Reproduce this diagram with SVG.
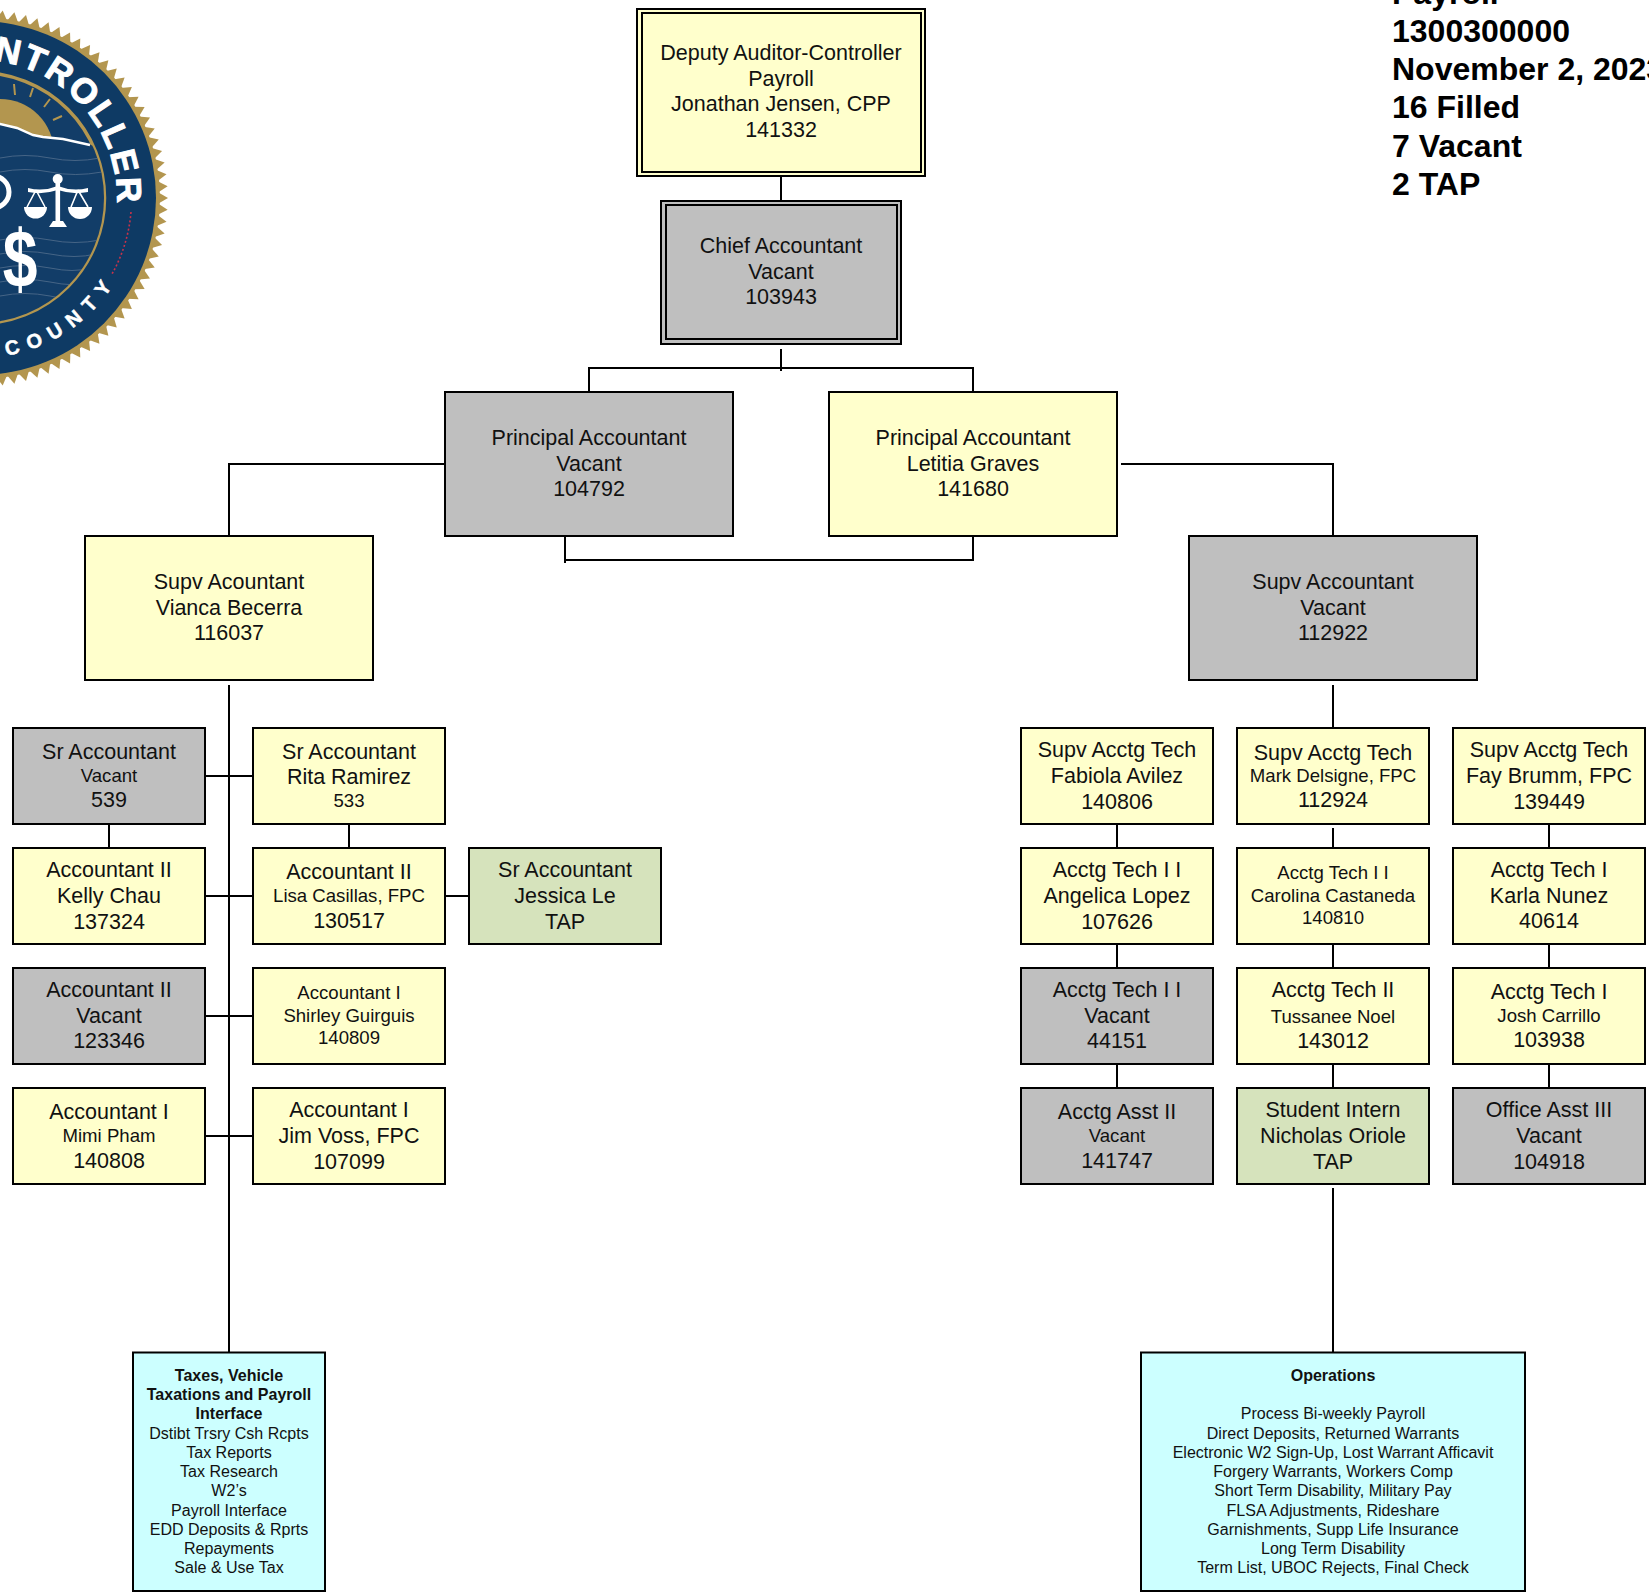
<svg xmlns="http://www.w3.org/2000/svg" xmlns:xlink="http://www.w3.org/1999/xlink" width="1649" height="1592" viewBox="0 0 1649 1592">
<style>
text{font-family:"Liberation Sans",Arial,sans-serif;fill:#111;text-anchor:middle;font-size:21.5px}
.s{font-size:18.6px}
.k{font-size:16.05px}
.b{font-weight:700}
.h{font-size:32px;font-weight:700;text-anchor:start;fill:#000}
rect{stroke:#000;stroke-width:2}
.y{fill:#ffc}
.g{fill:#bfbfbf}
.t{fill:#d6e3bc}
.c{fill:#cff}
.n{fill:none}
#connectors path{fill:none;stroke:#000;stroke-width:2}
.lg{font-weight:700;fill:#fff;stroke:#fff;text-anchor:start}
</style>
<defs>
<polygon id="tooth" points="-5.85,-179 0,-189 5.85,-179" fill="#b3964f"/>
<g id="t5"><use href="#tooth"/><use href="#tooth" transform="rotate(3.6)"/><use href="#tooth" transform="rotate(7.2)"/><use href="#tooth" transform="rotate(10.8)"/><use href="#tooth" transform="rotate(14.4)"/></g>
<g id="t25"><use href="#t5"/><use href="#t5" transform="rotate(18)"/><use href="#t5" transform="rotate(36)"/><use href="#t5" transform="rotate(54)"/><use href="#t5" transform="rotate(72)"/></g>
<clipPath id="inner"><circle cx="0" cy="0" r="125"/></clipPath>
<path id="arcTop" d="M23.9,-136 A138,138 0 0 1 135.9,24"/>
<path id="arcBot" d="M27.8,157.6 A160,160 0 0 0 150.4,54.7"/>
</defs>

<g id="logo">
<g transform="translate(-21,198)">
<use href="#t25"/><use href="#t25" transform="rotate(90)"/><use href="#t25" transform="rotate(180)"/><use href="#t25" transform="rotate(270)"/>
<circle r="181" fill="#b3964f"/>
<circle r="177" fill="#0e3a64"/>
<circle r="125.5" fill="#123d68" stroke="#b3964f" stroke-width="3.5"/>
<path d="M152,14 A153,153 0 0 1 133,76" fill="none" stroke="#c8324a" stroke-width="1.6" stroke-dasharray="2 2.2"/>
<text class="lg" transform="rotate(-4)" letter-spacing="2.4" stroke-width="1" style="font-size:35px"><textPath href="#arcTop">NTROLLER</textPath></text>
<text class="lg" stroke-width=".5" style="font-size:20px" letter-spacing="9"><textPath href="#arcBot">COUNTY</textPath></text>
<g clip-path="url(#inner)">
<g transform="translate(21,-198)">
<circle cx="0" cy="153" r="54" fill="#b3964f"/>
<path d="M14,84 L15,95 M33,88 L30,97 M50,99 L44,107 M62,116 L53,120" stroke="#b3964f" stroke-width="2" fill="none"/>
<path d="M-30,122 L0,124 L17,128 L33,135 L43,137 L63,139 L90,145 L120,150 L120,340 L-30,340 Z" fill="#123d68"/>
<path d="M-30,122 L0,124 L17,128 L33,135 L43,137 L63,139 L90,145" fill="none" stroke="#fff" stroke-width="2.4"/>
<path d="M0,158 Q25,153 50,158 T100,158 M0,172 Q25,167 50,172 T102,172 M0,240 Q25,235 50,240 T100,240 M0,254 Q25,249 50,254 T96,254 M0,268 Q25,263 50,268 T88,268 M0,282 Q25,277 50,282 T78,282 M0,296 Q25,291 50,296 T62,296" fill="none" stroke="#5c7693" stroke-width="1" opacity=".7"/>
<circle cx="-7" cy="192" r="16" fill="none" stroke="#fff" stroke-width="5"/>
<g fill="#fff" stroke="none">
<circle cx="57.7" cy="179" r="5"/>
<rect x="55.5" y="180" width="4.6" height="44" style="stroke:none;fill:#fff"/>
<path d="M49,227 L67,227 L63,221 L53,221 Z"/>
<path d="M28,188 Q43,192 57.7,186 Q73,192 88,188 L88,192 Q73,195 57.7,190 Q43,195 28,192 Z"/>
<path d="M24,207 L47,207 A11.5,11.5 0 0 1 24,207 Z"/>
<path d="M68,207 L92,207 A12,12 0 0 1 68,207 Z"/>
</g>
<path d="M36,190 L27,207 M36,190 L45,207 M78,190 L71,207 M78,190 L88,207" stroke="#fff" stroke-width="1.6" fill="none"/>
<text transform="translate(20,287) scale(.8,1.05)" class="b" style="font-size:78px;fill:#fff">$</text>
</g>
</g>
</g>
</g>

<g id="connectors">
<path d="M781,176V205M781,349V371M589,392V368H973V392M445,464H229V536M1121,464H1333V536M565,536V563M564,560H973V536"/>
<path d="M229,685V1352M205,776H253M205,896H253M205,1016H253M205,1136H253M109,824V848M349,824V853M445,896H469"/>
<path d="M1333,685V728M1117,824V848M1117,939V968M1117,1064V1088M1333,828V848M1333,944V968M1333,1064V1088M1333,1188V1352M1549,824V848M1549,944V968M1549,1064V1088"/>
</g>

<g id="header"><text class="h" x="1392" y="4">Payroll</text><text class="h" x="1392" y="42">1300300000</text><text class="h" x="1392" y="80">November 2, 2023</text><text class="h" x="1392" y="118">16 Filled</text><text class="h" x="1392" y="157">7 Vacant</text><text class="h" x="1392" y="195">2 TAP</text></g>

<g id="deputy"><rect class="y" x="637" y="9" width="288" height="167"/><rect class="n" x="642" y="13" width="279" height="159"/><text x="781" y="60">Deputy Auditor-Controller</text><text x="781" y="86">Payroll</text><text x="781" y="111">Jonathan Jensen, CPP</text><text x="781" y="137">141332</text></g>
<g id="chief"><rect class="g" x="661" y="201" width="240" height="143"/><rect class="n" x="666" y="205" width="231" height="134"/><text x="781" y="253">Chief Accountant</text><text x="781" y="279">Vacant</text><text x="781" y="304">103943</text></g>
<g id="principal-vacant"><rect class="g" x="445" y="392" width="288" height="144"/><text x="589" y="445">Principal Accountant</text><text x="589" y="471">Vacant</text><text x="589" y="496">104792</text></g>
<g id="principal-graves"><rect class="y" x="829" y="392" width="288" height="144"/><text x="973" y="445">Principal Accountant</text><text x="973" y="471">Letitia Graves</text><text x="973" y="496">141680</text></g>
<g id="supv-becerra"><rect class="y" x="85" y="536" width="288" height="144"/><text x="229" y="589">Supv Acountant</text><text x="229" y="615">Vianca Becerra</text><text x="229" y="640">116037</text></g>
<g id="supv-vacant"><rect class="g" x="1189" y="536" width="288" height="144"/><text x="1333" y="589">Supv Accountant</text><text x="1333" y="615">Vacant</text><text x="1333" y="640">112922</text></g>

<g id="sr-539"><rect class="g" x="13" y="728" width="192" height="96"/><text x="109" y="759">Sr Accountant</text><text class="s" x="109" y="782">Vacant</text><text x="109" y="807">539</text></g>
<g id="sr-533"><rect class="y" x="253" y="728" width="192" height="96"/><text x="349" y="759">Sr Accountant</text><text x="349" y="783.5">Rita Ramirez</text><text class="s" x="349" y="807">533</text></g>
<g id="acct-chau"><rect class="y" x="13" y="848" width="192" height="96"/><text x="109" y="877">Accountant II</text><text x="109" y="903">Kelly Chau</text><text x="109" y="928.5">137324</text></g>
<g id="acct-casillas"><rect class="y" x="253" y="848" width="192" height="96"/><text x="349" y="879">Accountant II</text><text class="s" x="349" y="902">Lisa Casillas, FPC</text><text x="349" y="927.5">130517</text></g>
<g id="sr-le"><rect class="t" x="469" y="848" width="192" height="96"/><text x="565" y="877">Sr Accountant</text><text x="565" y="903">Jessica Le</text><text x="565" y="928.5">TAP</text></g>
<g id="acct-123346"><rect class="g" x="13" y="968" width="192" height="96"/><text x="109" y="997">Accountant II</text><text x="109" y="1023">Vacant</text><text x="109" y="1048">123346</text></g>
<g id="acct-guirguis"><rect class="y" x="253" y="968" width="192" height="96"/><text class="s" x="349" y="999">Accountant I</text><text class="s" x="349" y="1022">Shirley Guirguis</text><text class="s" x="349" y="1044">140809</text></g>
<g id="acct-pham"><rect class="y" x="13" y="1088" width="192" height="96"/><text x="109" y="1119">Accountant I</text><text class="s" x="109" y="1142">Mimi Pham</text><text x="109" y="1167.5">140808</text></g>
<g id="acct-voss"><rect class="y" x="253" y="1088" width="192" height="96"/><text x="349" y="1117">Accountant I</text><text x="349" y="1143">Jim Voss, FPC</text><text x="349" y="1168.5">107099</text></g>

<g id="supv-avilez"><rect class="y" x="1021" y="728" width="192" height="96"/><text x="1117" y="757">Supv Acctg Tech</text><text x="1117" y="783">Fabiola Avilez</text><text x="1117" y="808.5">140806</text></g>
<g id="supv-delsigne"><rect class="y" x="1237" y="728" width="192" height="96"/><text x="1333" y="759.5">Supv Acctg Tech</text><text class="s" x="1333" y="782">Mark Delsigne, FPC</text><text x="1333" y="807">112924</text></g>
<g id="supv-brumm"><rect class="y" x="1453" y="728" width="192" height="96"/><text x="1549" y="757">Supv Acctg Tech</text><text x="1549" y="783">Fay Brumm, FPC</text><text x="1549" y="808.5">139449</text></g>
<g id="tech-lopez"><rect class="y" x="1021" y="848" width="192" height="96"/><text x="1117" y="877">Acctg Tech I I</text><text x="1117" y="903">Angelica Lopez</text><text x="1117" y="928.5">107626</text></g>
<g id="tech-castaneda"><rect class="y" x="1237" y="848" width="192" height="96"/><text class="s" x="1333" y="879">Acctg Tech I I</text><text class="s" x="1333" y="902">Carolina Castaneda</text><text class="s" x="1333" y="924">140810</text></g>
<g id="tech-nunez"><rect class="y" x="1453" y="848" width="192" height="96"/><text x="1549" y="877">Acctg Tech I</text><text x="1549" y="902.5">Karla Nunez</text><text x="1549" y="928">40614</text></g>
<g id="tech-44151"><rect class="g" x="1021" y="968" width="192" height="96"/><text x="1117" y="997">Acctg Tech I I</text><text x="1117" y="1023">Vacant</text><text x="1117" y="1048">44151</text></g>
<g id="tech-noel"><rect class="y" x="1237" y="968" width="192" height="96"/><text x="1333" y="997">Acctg Tech II</text><text class="s" x="1333" y="1023">Tussanee Noel</text><text x="1333" y="1048">143012</text></g>
<g id="tech-carrillo"><rect class="y" x="1453" y="968" width="192" height="96"/><text x="1549" y="999">Acctg Tech I</text><text class="s" x="1549" y="1022">Josh Carrillo</text><text x="1549" y="1047">103938</text></g>
<g id="asst-141747"><rect class="g" x="1021" y="1088" width="192" height="96"/><text x="1117" y="1119">Acctg Asst II</text><text class="s" x="1117" y="1142">Vacant</text><text x="1117" y="1167.5">141747</text></g>
<g id="intern-oriole"><rect class="t" x="1237" y="1088" width="192" height="96"/><text x="1333" y="1117">Student Intern</text><text x="1333" y="1143">Nicholas Oriole</text><text x="1333" y="1168.5">TAP</text></g>
<g id="office-104918"><rect class="g" x="1453" y="1088" width="192" height="96"/><text x="1549" y="1117">Office Asst III</text><text x="1549" y="1143">Vacant</text><text x="1549" y="1168.5">104918</text></g>

<g id="taxes"><rect class="c" x="133" y="1352.5" width="192" height="238.5"/>
<text class="k b" x="229" y="1381">Taxes, Vehicle</text><text class="k b" x="229" y="1400">Taxations and Payroll</text><text class="k b" x="229" y="1419">Interface</text><text class="k" x="229" y="1439">Dstibt Trsry Csh Rcpts</text><text class="k" x="229" y="1458">Tax Reports</text><text class="k" x="229" y="1477">Tax Research</text><text class="k" x="229" y="1496">W2’s</text><text class="k" x="229" y="1516">Payroll Interface</text><text class="k" x="229" y="1535">EDD Deposits &amp; Rprts</text><text class="k" x="229" y="1554">Repayments</text><text class="k" x="229" y="1573">Sale &amp; Use Tax</text></g>
<g id="operations"><rect class="c" x="1141" y="1352.5" width="384" height="238.5"/>
<text class="k b" x="1333" y="1381">Operations</text><text class="k" x="1333" y="1419">Process Bi-weekly Payroll</text><text class="k" x="1333" y="1439">Direct Deposits, Returned Warrants</text><text class="k" x="1333" y="1458">Electronic W2 Sign-Up, Lost Warrant Afficavit</text><text class="k" x="1333" y="1477">Forgery Warrants, Workers Comp</text><text class="k" x="1333" y="1496">Short Term Disability, Military Pay</text><text class="k" x="1333" y="1516">FLSA Adjustments, Rideshare</text><text class="k" x="1333" y="1535">Garnishments, Supp Life Insurance</text><text class="k" x="1333" y="1554">Long Term Disability</text><text class="k" x="1333" y="1573">Term List, UBOC Rejects, Final Check</text></g>
</svg>
